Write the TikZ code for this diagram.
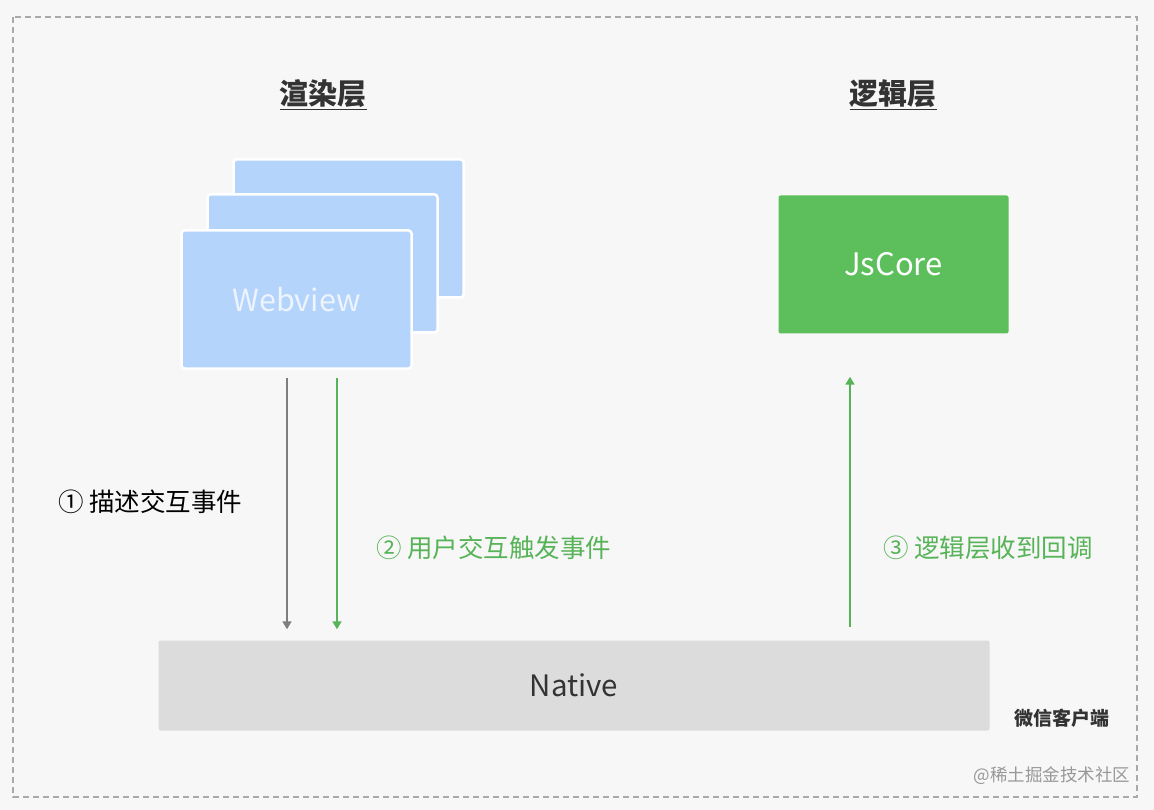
\documentclass[tikz,border=0pt]{standalone}
\usepackage{fontspec}
\setmainfont{Noto Sans CJK SC}
\usetikzlibrary{arrows.meta,calc}
\definecolor{bgc}{HTML}{F7F7F7}
\definecolor{framec}{HTML}{AAAAAA}
\definecolor{webc}{HTML}{B4D4FB}
\definecolor{webt}{HTML}{EDF4FE}
\definecolor{jsc}{HTML}{5CBF5C}
\definecolor{natc}{HTML}{DCDCDC}
\definecolor{greenc}{HTML}{57B357}
\definecolor{grayc}{HTML}{7E7E7E}
\definecolor{darkc}{HTML}{333333}
\begin{document}
\begin{tikzpicture}[x=1pt,y=-1pt,
  card/.style={draw=white,line width=2.5pt,fill=webc,rounded corners=3pt,minimum width=230pt,minimum height=138pt,inner sep=0pt},
  title/.style={font=\fontsize{29}{32}\selectfont\bfseries,text=darkc},
  lbl/.style={font=\fontsize{25.5}{28}\selectfont,anchor=west,inner sep=0pt},
  arr/.style={line width=1.6pt,-{Triangle[width=9pt,length=8pt]}}]
\useasboundingbox (0,0) rectangle (1154,810);
\fill[bgc] (0,0) rectangle (1154,810);
\draw[framec,line width=1.3pt,dash pattern=on 6pt off 4pt] (13,17) rectangle (1137,797);
% titles
\node[title] (t1) at (323,95) {\underline{渲染层}};
\node[title] (t2) at (893,95) {\underline{逻辑层}};
% webview stack
\node[card] (card3) at (348.5,228.5) {};
\node[card] (card2) at (322.5,263.5) {};
\node[card] (card1) at (296.5,299.5) {\textcolor{webt}{\fontsize{30.5}{34}\selectfont Webview}};
% JsCore
\node[fill=jsc,rounded corners=2pt,minimum width=230pt,minimum height=138pt,inner sep=0pt,
  text=white,font=\fontsize{31}{34}\selectfont] (js) at (893.5,264.5) {JsCore};
% Native
\node[fill=natc,rounded corners=2pt,minimum width=831pt,minimum height=90pt,inner sep=0pt,
  text=darkc,font=\fontsize{29.5}{32}\selectfont] (native) at (574,685.5) {Native};
% arrows
\draw[arr,grayc] ($(card1.south)+(-9.5,8)$) -- ($(card1.south |- native.north)+(-9.5,-11)$);
\draw[arr,greenc] ($(card1.south)+(40.5,8)$) -- ($(card1.south |- native.north)+(40.5,-11)$);
\draw[arr,greenc] ($(js.south |- native.north)+(-43.5,-13)$) -- ($(js.south)+(-43.5,43)$);
% labels
\node[lbl,text=black] (l1) at (58,502) {① 描述交互事件};
\node[lbl,text=greenc] (l2) at (376,548) {② 用户交互触发事件};
\node[lbl,text=greenc] (l3) at (883,548) {③ 逻辑层收到回调};
\node[font=\fontsize{19}{21}\selectfont\bfseries,text=darkc] (wx) at (1062,718) {微信客户端};
\node[font=\fontsize{17.5}{20}\selectfont,text=grayc!80] (wm) at (1052,776) {@稀土掘金技术社区};
\end{tikzpicture}
\end{document}
